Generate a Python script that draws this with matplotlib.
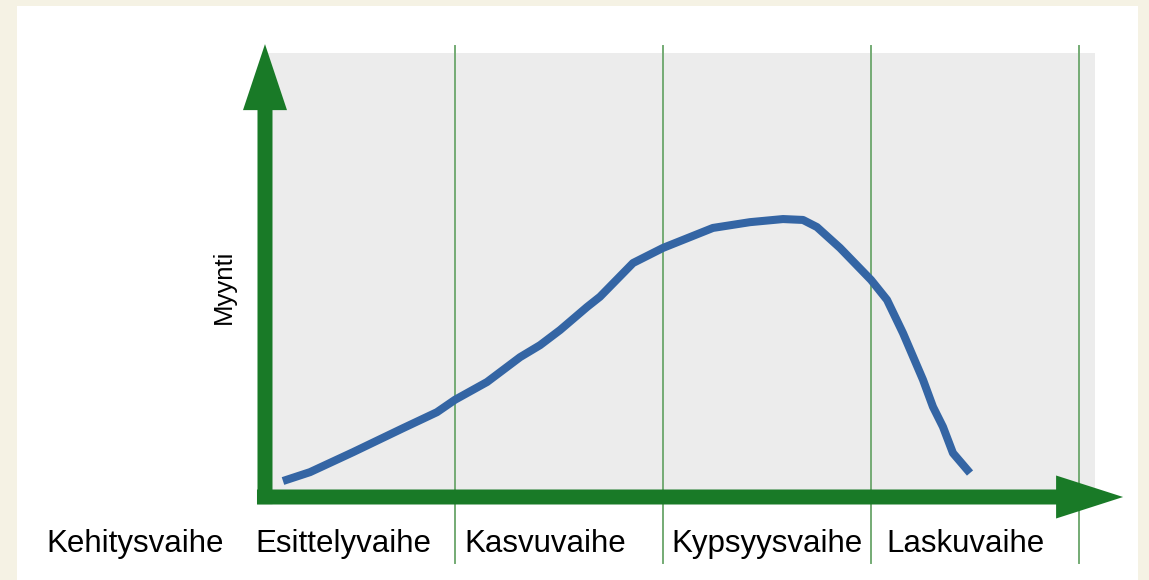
import matplotlib
matplotlib.use('Agg')
import matplotlib.pyplot as plt
from matplotlib.patches import Rectangle

plt.rcParams['font.family'] = ['Liberation Sans', 'DejaVu Sans']

# sales curve, x in phase units (phase boundaries at 1, 2, 3, 4), y in % of chart height
time = [0.173, 0.303, 0.510, 0.750, 0.913, 1.000, 1.154, 1.313, 1.409, 1.505,
        1.635, 1.697, 1.856, 2.000, 2.240, 2.418, 2.577, 2.673, 2.740, 2.851,
        3.000, 3.077, 3.154, 3.250, 3.298, 3.346, 3.394, 3.476]
sales = [3.6, 5.6, 10.1, 15.5, 19.1, 21.9, 25.9, 31.5, 34.2, 37.6,
         42.8, 45.1, 52.7, 56.1, 60.6, 61.9, 62.6, 62.4, 60.8, 56.1,
         48.9, 44.4, 36.9, 26.4, 20.3, 15.8, 9.9, 5.4]

phases = ['Kehitysvaihe', 'Esittelyvaihe', 'Kasvuvaihe', 'Kypsyysvaihe', 'Laskuvaihe']
phase_pos = [-0.538, 0.464, 1.433, 2.502, 3.452]
boundaries = [1, 2, 3, 4]

green = '#197a27'
blue = '#3465a4'

fig = plt.figure(figsize=(11.49, 5.80), dpi=100)
fig.patch.set_facecolor('#f5f2e4')

ax = fig.add_axes([0, 0, 1, 1])
ax.set_xlim(-247 / 208, (1149 - 247) / 208)
ax.set_ylim(-83 / 4.44, 497 / 4.44)
ax.axis('off')

# white panel
ax.add_patch(Rectangle((17 / 1149, 0), 1121 / 1149, 574 / 580,
                       transform=ax.transAxes, facecolor='white',
                       edgecolor='none', zorder=0))

# grey plot area
ax.add_patch(Rectangle((0.0865, 0), 4.077 - 0.0865, 100, facecolor='#ececec',
                       edgecolor='none', zorder=1))

# phase separators
for b in boundaries:
    ax.plot([b, b], [-14.9, 101.6], color='#74ab74', lw=1.4, zorder=2)

# curve
ax.plot(time, sales, color=blue, lw=5.8, solid_capstyle='butt',
        solid_joinstyle='round', zorder=3)

# axis arrows (sizes in pixels via mutation_scale)
style = 'simple,head_length=66,head_width=44,tail_width=15'
ax.annotate('', xy=(0.0865, 102.0), xytext=(0.0865, -1.6),
            arrowprops=dict(arrowstyle=style, mutation_scale=0.72, color=green,
                            lw=0, shrinkA=0, shrinkB=0), zorder=4)
style = 'simple,head_length=67,head_width=43,tail_width=15'
ax.annotate('', xy=(4.212, 0), xytext=(0.048, 0),
            arrowprops=dict(arrowstyle=style, mutation_scale=0.72, color=green,
                            lw=0, shrinkA=0, shrinkB=0), zorder=4)

ax.text(-0.111, 47.3, 'Myynti', rotation=90, ha='center', va='center',
        fontsize=18.5, color='black', zorder=5)

for name, x in zip(phases, phase_pos):
    ax.text(x, -12.4, name, ha='center', va='baseline', fontsize=22.5,
            color='black', zorder=5)

fig.savefig('out.png', dpi=100, facecolor=fig.get_facecolor())
